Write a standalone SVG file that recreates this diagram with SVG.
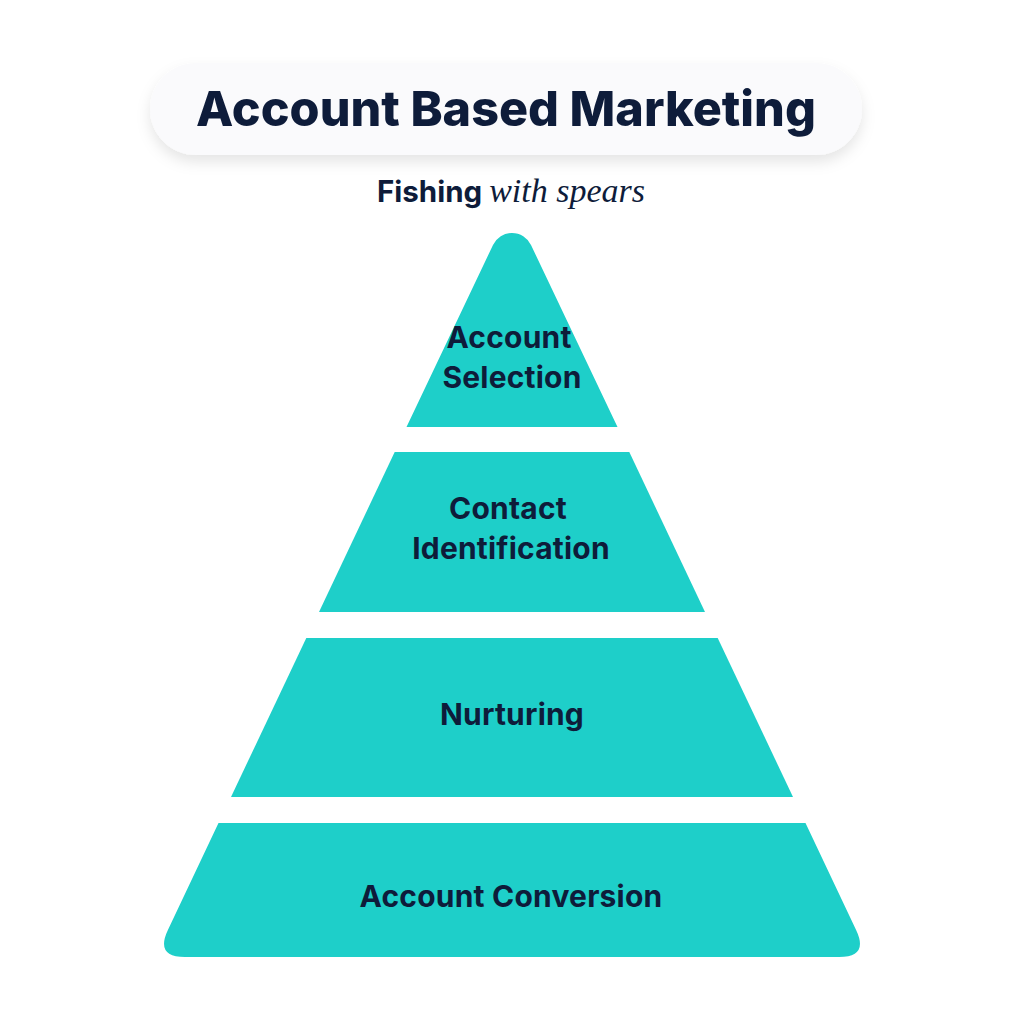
<svg xmlns="http://www.w3.org/2000/svg" width="1024" height="1021" viewBox="0 0 1024 1021">
  <defs>
    <filter id="shadow" x="-10%" y="-40%" width="120%" height="190%">
      <feDropShadow dx="0" dy="7" stdDeviation="7" flood-color="#000000" flood-opacity="0.10"/>
    </filter>
    <style>
      .tier { fill: #1ecfc9; }
      .lbl { font-family: Inter, "Liberation Sans", sans-serif; font-weight: 700; font-size: 30px; letter-spacing: 0.2px; fill: #0e1c3a; text-anchor: middle; }
      .title { font-family: Inter, "Liberation Sans", sans-serif; font-weight: 800; font-size: 48.5px; fill: #0e1c3a; text-anchor: middle; }
      .sub { font-family: Inter, "Liberation Sans", sans-serif; font-weight: 700; font-size: 29.5px; fill: #0e1c3a; }
      .subi { font-family: "Liberation Serif", "DejaVu Serif", serif; font-style: italic; font-weight: 400; font-size: 34px; fill: #0e1c3a; }
    </style>
  </defs>
  <rect width="1024" height="1021" fill="#ffffff"/>

  <g id="title">
    <rect x="150" y="63" width="712" height="92" rx="46" ry="46" fill="#fafafc" filter="url(#shadow)"/>
    <text class="title" x="506" y="126">Account Based Marketing</text>
  </g>

  <g id="subtitle">
    <text x="511" y="202" text-anchor="middle"><tspan class="sub">Fishing </tspan><tspan class="subi">with spears</tspan></text>
  </g>

  <g id="tier1">
    <path class="tier" d="M493,245 A21,21 0 0 1 531,245 L617.5,427 L406.5,427 Z"/>
    <text class="lbl" x="509" y="348">Account</text>
    <text class="lbl" x="512" y="388">Selection</text>
  </g>

  <g id="tier2">
    <path class="tier" d="M394.7,452 L629.3,452 L705,612 L319,612 Z"/>
    <text class="lbl" x="508" y="519">Contact</text>
    <text class="lbl" x="511" y="559">Identification</text>
  </g>

  <g id="tier3">
    <path class="tier" d="M306.3,638 L717.7,638 L793,797 L231,797 Z"/>
    <text class="lbl" x="512" y="725">Nurturing</text>
  </g>

  <g id="tier4">
    <path class="tier" d="M218.5,823 L805.5,823 L856.1,929.9 Q869,957 839,957 L185,957 Q155,957 167.9,929.9 Z"/>
    <text class="lbl" x="511" y="907">Account Conversion</text>
  </g>

  <g id="connectors"/>
</svg>
